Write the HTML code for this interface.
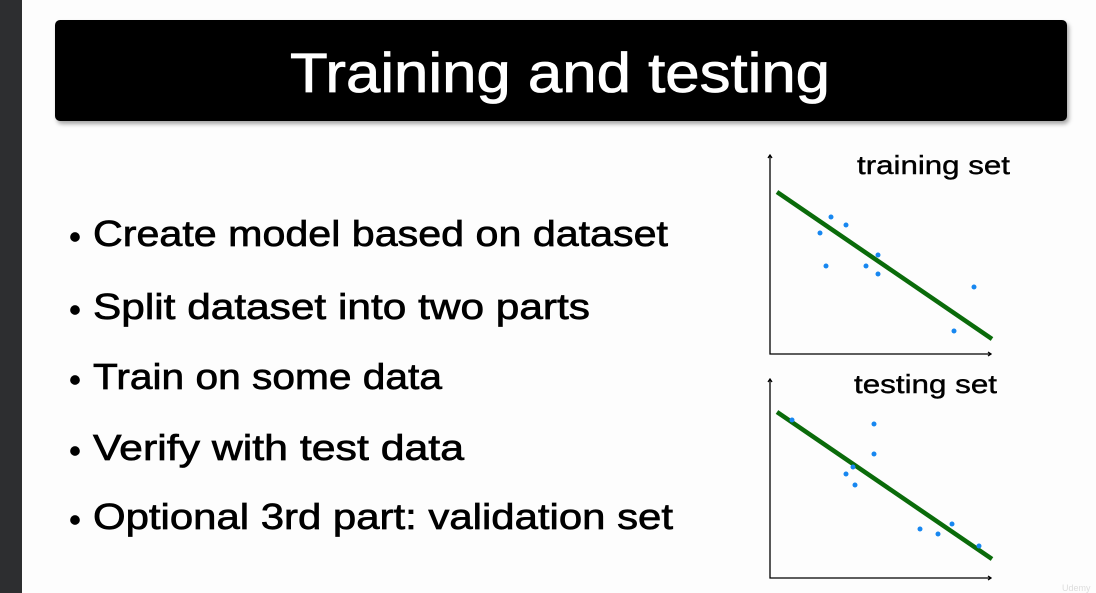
<!DOCTYPE html>
<html><head><meta charset="utf-8"><style>
html,body{margin:0;padding:0;background:#fdfdfd;}
svg{display:block;}
text{font-family:"Liberation Sans",sans-serif;}
</style></head><body>
<svg width="1096" height="593" viewBox="0 0 1096 593">
<defs><filter id="sh" x="-5%" y="-20%" width="110%" height="150%"><feDropShadow dx="2" dy="3" stdDeviation="2" flood-color="#000" flood-opacity="0.35"/></filter></defs>
<rect x="0" y="0" width="1096" height="593" fill="#fdfdfd"/>
<rect x="0" y="0" width="22" height="593" fill="#2d2e30"/>
<rect x="55" y="20" width="1012" height="101" rx="5" fill="#000" filter="url(#sh)"/>
<text x="560" y="92" text-anchor="middle" font-size="56" fill="#fff" stroke="#fff" stroke-width="0.8" textLength="540" lengthAdjust="spacingAndGlyphs">Training and testing</text>
<g font-size="36" fill="#000" stroke="#000" stroke-width="0.7">
<circle cx="75" cy="237" r="4.5"/><text x="93" y="246" textLength="575" lengthAdjust="spacingAndGlyphs">Create model based on dataset</text>
<circle cx="75" cy="310" r="4.5"/><text x="93" y="319" textLength="497" lengthAdjust="spacingAndGlyphs">Split dataset into two parts</text>
<circle cx="75" cy="380" r="4.5"/><text x="93" y="389" textLength="349" lengthAdjust="spacingAndGlyphs">Train on some data</text>
<circle cx="75" cy="451" r="4.5"/><text x="93" y="460" textLength="371" lengthAdjust="spacingAndGlyphs">Verify with test data</text>
<circle cx="75" cy="520" r="4.5"/><text x="93" y="529" textLength="580" lengthAdjust="spacingAndGlyphs">Optional 3rd part: validation set</text>
</g>
<g font-size="26" fill="#000" stroke="#000" stroke-width="0.4">
<text x="857" y="174" textLength="153" lengthAdjust="spacingAndGlyphs">training set</text>
<text x="854" y="393" textLength="143" lengthAdjust="spacingAndGlyphs">testing set</text>
</g>
<g stroke="#000" stroke-width="1.3" fill="none">
<path d="M770 155 V354 H991"/><path d="M768 158 L770 155 L772 158 M988 352 L991 354 L988 356"/>
<path d="M770 379 V578 H991"/><path d="M768 382 L770 379 L772 382 M988 576 L991 578 L988 580"/>
</g>
<line x1="777" y1="192" x2="992" y2="339" stroke="#0a6b0a" stroke-width="4.5"/>
<line x1="777" y1="412" x2="992" y2="559" stroke="#0a6b0a" stroke-width="4.5"/>
<g fill="#1787f0">
<circle cx="820" cy="233" r="2.5"/><circle cx="831" cy="217" r="2.5"/><circle cx="846" cy="225" r="2.5"/>
<circle cx="826" cy="266" r="2.5"/><circle cx="866" cy="266" r="2.5"/><circle cx="878" cy="255" r="2.5"/>
<circle cx="878" cy="274" r="2.5"/><circle cx="974" cy="287" r="2.5"/><circle cx="954" cy="331" r="2.5"/>
<circle cx="792" cy="420" r="2.5"/><circle cx="874" cy="424" r="2.5"/><circle cx="874" cy="454" r="2.5"/>
<circle cx="846" cy="474" r="2.5"/><circle cx="855" cy="485" r="2.5"/><circle cx="853" cy="467" r="2.5"/>
<circle cx="920" cy="529" r="2.5"/><circle cx="938" cy="534" r="2.5"/><circle cx="952" cy="524" r="2.5"/>
<circle cx="979" cy="546" r="2.5"/>
</g>
<text x="1062" y="591" font-size="9" fill="#ddd">Udemy</text>
</svg>
</body></html>
